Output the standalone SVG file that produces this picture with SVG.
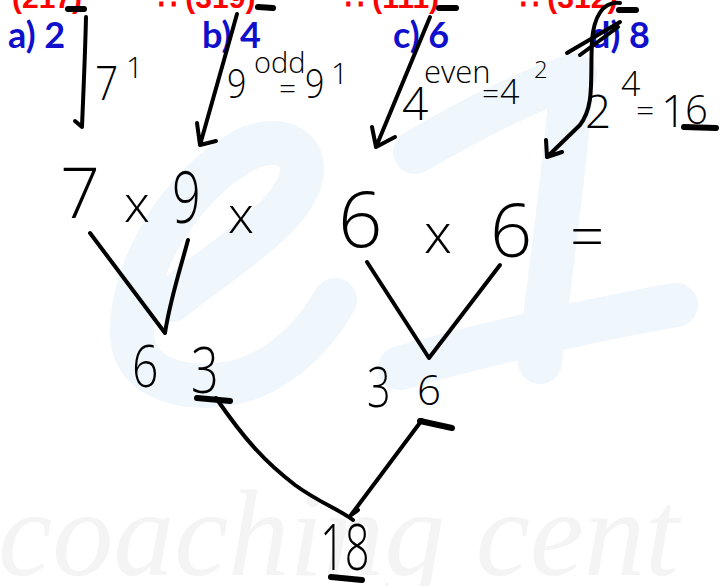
<svg xmlns="http://www.w3.org/2000/svg" width="720" height="586" viewBox="0 0 720 586">
<style>
.wm{fill:none;stroke:#eff6fc;stroke-width:44;stroke-linecap:round;stroke-linejoin:round}
.wm2{fill:#f4f4f4;font-family:"Liberation Serif",serif;font-style:italic}
.red{fill:#ff0000;font-family:"Liberation Sans",sans-serif;font-weight:bold;font-size:30px}
.blue{fill:#1010cc;font-family:Lato,"Liberation Sans",sans-serif;font-weight:bold;font-size:36px}
.hw{fill:#000;font-family:"Open Sans","DejaVu Sans",sans-serif;font-weight:300}
.s{fill:none;stroke:#000;stroke-width:4;stroke-linecap:round;stroke-linejoin:round}
.u{fill:none;stroke:#000;stroke-width:6;stroke-linecap:round}
</style>
<rect width="720" height="586" fill="#fff"/>
<g id="watermark">
<path class="wm" d="M172 300 C220 260 300 215 302 170 C303 145 275 135 245 150 C180 185 130 270 132 335 C134 385 200 395 250 378 C290 362 318 330 335 300"/>
<path class="wm" d="M415 152 C470 120 530 90 575 75 M572 80 C565 170 550 270 540 362 M400 368 C480 345 600 318 676 305"/>
<text class="wm2" x="-2" y="575" font-size="122">coaching cent</text>
</g>
<g id="red-row">
<text class="red" x="12" y="8">(217)</text>
<text class="red" x="158" y="8">∴ (319)</text>
<text class="red" x="345" y="8">∴ (111)</text>
<text class="red" x="520" y="8">∴ (312)</text>
<path class="u" d="M68 9 L84 9 M258 7 L273 8 M439 8 L456 8 M619 10 L636 10"/>
</g>
<g id="options">
<text class="blue" x="8" y="48">a) 2</text>
<text class="blue" x="202" y="48">b) 4</text>
<text class="blue" x="393" y="48">c) 6</text>
<text class="blue" x="590" y="48">d) 8</text>
</g>
<g id="notes">
<text class="hw" transform="translate(95 100) scale(0.85 1)" font-size="48">7</text>
<text class="hw" x="126" y="78" font-size="30">1</text>
<text class="hw" transform="translate(227 98) scale(0.85 1)" font-size="40">9</text>
<text class="hw" x="254" y="73" font-size="29">odd</text>
<text class="hw" x="279" y="99" font-size="30">=</text>
<text class="hw" transform="translate(305 98) scale(0.85 1)" font-size="40">9</text>
<text class="hw" x="331" y="84" font-size="30">1</text>
<text class="hw" x="402" y="120" font-size="46">4</text>
<text class="hw" x="424" y="83" font-size="31">even</text>
<text class="hw" x="482" y="104" font-size="30">=</text>
<text class="hw" x="500" y="104" font-size="34">4</text>
<text class="hw" x="534" y="78" font-size="24">2</text>
<text class="hw" x="585" y="128" font-size="46">2</text>
<text class="hw" x="621" y="96" font-size="34">4</text>
<text class="hw" x="636" y="121" font-size="32">=</text>
<text class="hw" x="661" y="127" font-size="44">1</text>
<text class="hw" x="685" y="124" font-size="40">6</text>
<path class="u" d="M684 127 L716 128"/>
</g>
<g id="expression">
<text class="hw" x="60" y="218" font-size="70">7</text>
<text class="hw" x="124" y="222" font-size="52">x</text>
<text class="hw" transform="translate(172 223) scale(0.7 1)" font-size="72">9</text>
<text class="hw" x="228" y="233" font-size="52">x</text>
<text class="hw" x="338" y="247" font-size="78">6</text>
<text class="hw" x="424" y="253" font-size="56">x</text>
<text class="hw" x="490" y="257" font-size="74">6</text>
<text class="hw" x="570" y="258" font-size="60">=</text>
</g>
<g id="partials">
<text class="hw" transform="translate(132 387) scale(0.8 1)" font-size="58">6</text>
<text class="hw" transform="translate(191 393) scale(0.76 1)" font-size="64">3</text>
<text class="hw" transform="translate(367 407) scale(0.74 1)" font-size="56">3</text>
<text class="hw" x="417" y="405" font-size="42">6</text>
<path class="u" d="M197 398 L230 401 M420 421 L452 428"/>
</g>
<g id="result">
<text class="hw" transform="translate(320 570) scale(0.68 1)" font-size="64">18</text>
<path class="u" d="M331 577 L362 580"/>
</g>
<g id="connectors">
<path class="s" d="M86 17 C85 60 83 100 82 127 L75 121"/>
<path class="s" d="M237 14 L200 145 M197 123 L200 145 L216 141"/>
<path class="s" d="M430 17 L376 147 M372 127 L376 147 L395 137"/>
<path class="s" d="M620 3 C602 1 594 18 592 40 C590 80 595 105 580 125 L547 157 M546 140 L547 157 L562 152"/>
<path class="s" d="M567 53 L620 22 M580 55 L618 27"/>
<path class="s" d="M90 233 L165 333 M188 240 C180 270 170 300 165 333"/>
<path class="s" d="M367 262 L429 358 L500 265"/>
<path class="s" d="M216 398 C245 440 265 462 295 485 C320 503 340 510 353 520 M422 420 L351 515 L358 510"/>
</g>
</svg>
